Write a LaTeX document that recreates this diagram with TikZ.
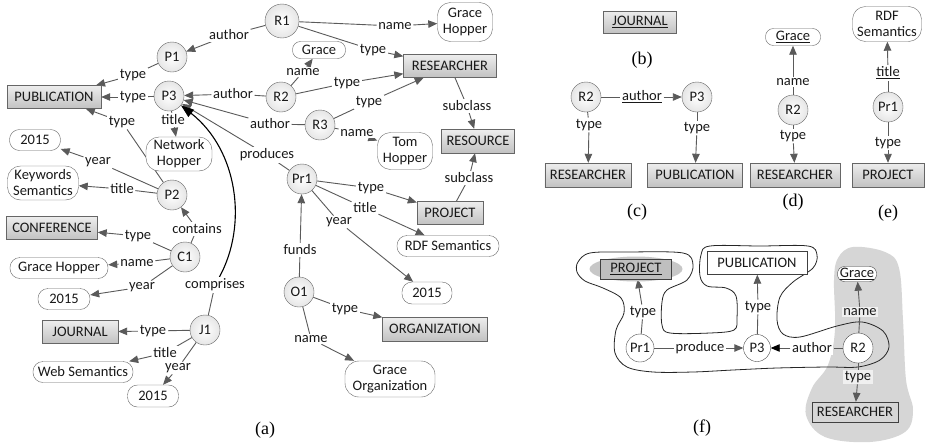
\documentclass[tikz,border=0pt]{standalone}
\usepackage{fontspec}
\setmainfont{Carlito}
\newfontfamily\capfont{Liberation Serif}
\usetikzlibrary{arrows.meta,shapes.geometric}
\definecolor{lineC}{RGB}{90,90,90}
\definecolor{txtC}{RGB}{25,25,25}
\definecolor{blobC}{RGB}{214,214,214}
\pgfdeclarelayer{back}
\pgfdeclarelayer{edges}
\pgfsetlayers{back,edges,main}
\newcommand\myedge[3]{\draw[ln] (#1) -- (#2); \draw[arr] (#2) -- (#3);}
\tikzset{
  ent/.style={circle, draw=black!60, inner color=white, outer color=black!10, minimum size=30pt, inner sep=0pt, text=txtC},
  cls/.style={rectangle, draw=black!60, top color=black!7, bottom color=black!24, minimum height=23pt, inner xsep=5pt, text=txtC},
  lit/.style={rectangle, rounded corners=10pt, draw=black!60, fill=white, minimum height=21pt, align=center, inner xsep=3pt, inner ysep=1pt, text=txtC},
  lbl/.style={inner sep=1.5pt, fill=white, text=txtC},
  ln/.style={draw=lineC, line width=0.9pt},
  arr/.style={ln, -{Triangle[length=9pt,width=7.5pt]}},
  bigarr/.style={draw=black, line width=1.1pt, -{Triangle[length=13pt,width=9pt]}},
  blkarr/.style={ln, -{Triangle[length=9pt,width=7.5pt,color=black]}},
  fent/.style={circle, draw=black!70, fill=white, minimum size=28pt, inner sep=0pt, text=txtC},
  fbox/.style={rectangle, draw=black!75, fill=white, minimum height=22pt, inner xsep=5pt, text=txtC},
  capt/.style={font=\capfont\fontsize{18}{20}\selectfont, text=black}
}
\begin{document}
\begin{tikzpicture}[x=1pt,y=-1pt,font=\fontsize{14.5}{16}\selectfont]
\useasboundingbox (0,0) rectangle (932,442);
\begin{pgfonlayer}{back}
\fill[white] (0,0) rectangle (932,442);
\end{pgfonlayer}

% ---------------- (a) ----------------
\node[ent, minimum size=34pt] (R1) at (282,21) {R1};
\node[ent] (P1) at (172,57) {P1};
\node[ent] (P3) at (169,96) {P3};
\node[ent] (R2) at (281,97) {R2};
\node[ent] (R3) at (320,125) {R3};
\node[ent] (Pr1) at (302,179) {Pr1};
\node[ent] (O1) at (299,292) {O1};
\node[ent] (P2) at (172,195) {P2};
\node[ent] (C1) at (185,257) {C1};
\node[ent] (J1) at (205,330) {J1};

\node[cls, minimum width=94pt] (PUB) at (54,97) {PUBLICATION};
\node[cls, minimum width=93pt] (RES) at (450,66) {RESEARCHER};
\node[cls, minimum width=73pt, minimum height=24pt] (RESO) at (478,141) {RESOURCE};
\node[cls, minimum width=66pt] (PROJ) at (450,213) {PROJECT};
\node[cls, minimum width=105pt, minimum height=24pt] (ORG) at (435,329) {ORGANIZATION};
\node[cls, minimum width=91pt] (CONF) at (52,228) {CONFERENCE};
\node[cls, minimum width=76pt] (JOUR) at (80,332) {JOURNAL};

\node[lit, minimum width=55pt, minimum height=39pt, rounded corners=13pt] (GH1) at (465,22) {Grace\\Hopper};
\node[lit, minimum width=53pt, minimum height=17pt, rounded corners=8pt] (GR) at (319,50) {Grace};
\node[lit, minimum width=55pt, minimum height=37pt, rounded corners=13pt] (TH) at (405,151) {Tom\\Hopper};
\node[lit, minimum width=66pt, minimum height=34pt, rounded corners=13pt] (NH) at (179,154) {Network\\Hopper};
\node[lit, minimum width=102pt] (RDF) at (448,246) {RDF Semantics};
\node[lit, minimum width=50pt, minimum height=22pt] (Y1) at (427,293) {2015};
\node[lit, minimum width=90pt, minimum height=36pt, rounded corners=14pt] (GO) at (390,379) {Grace\\Organization};
\node[lit, minimum width=51pt] (Y2) at (35,140) {2015};
\node[lit, minimum width=71pt, minimum height=34pt, rounded corners=13pt] (KS) at (43,183) {Keywords\\Semantics};
\node[lit, minimum width=98pt] (GH2) at (59,268) {Grace Hopper};
\node[lit, minimum width=52pt] (Y3) at (64,299) {2015};
\node[lit, minimum width=100pt] (WS) at (83,372) {Web Semantics};
\node[lit, minimum width=51pt, minimum height=22pt] (Y4) at (153,396) {2015};

\node[lbl] (a1) at (229,35) {author};
\node[lbl] (a2) at (395,26) {name};
\node[lbl] (a3) at (373,50) {type};
\node[lbl] (a4) at (133,75) {type};
\node[lbl] (a5) at (133,97) {type};
\node[lbl] (a6) at (122,122) {type};
\node[lbl] (a7) at (173,120) {title};
\node[lbl] (a8) at (233,94) {author};
\node[lbl] (a9) at (270,124) {author};
\node[lbl] (a10) at (267,155) {produces};
\node[lbl] (a11) at (215,285) {comprises};
\node[lbl] (a12) at (303,72) {name};
\node[lbl] (a13) at (347,83) {type};
\node[lbl] (a14) at (369,102) {type};
\node[lbl] (a15) at (357,133) {name};
\node[lbl] (a16) at (467,106) {subclass};
\node[lbl] (a17) at (469,178) {subclass};
\node[lbl] (a18) at (371,188) {type};
\node[lbl] (a19) at (365,208) {title};
\node[lbl] (a20) at (339,222) {year};
\node[lbl] (a21) at (300,250) {funds};
\node[lbl] (a22) at (345,309) {type};
\node[lbl] (a23) at (311,339) {name};
\node[lbl] (a24) at (98,162) {year};
\node[lbl] (a25) at (122,189) {title};
\node[lbl] (a26) at (197,229) {contains};
\node[lbl] (a27) at (138,236) {type};
\node[lbl] (a28) at (137,263) {name};
\node[lbl] (a29) at (142,287) {year};
\node[lbl] (a30) at (153,331) {type};
\node[lbl] (a31) at (165,353) {title};
\node[lbl] (a32) at (178,368) {year};

\begin{pgfonlayer}{edges}
\myedge{R1}{a1}{P1}
\myedge{R1}{a2}{GH1}
\myedge{R1}{a3}{RES}
\myedge{P1}{a4}{PUB}
\myedge{P3}{a5}{PUB}
\myedge{P2}{a6}{PUB}
\myedge{P3}{a7}{NH}
\myedge{R2}{a8}{P3}
\myedge{R3}{a9}{P3}
\myedge{Pr1}{a10}{P3}
\draw[ln] (J1) -- (a11);
\draw[bigarr] (a11) .. controls (248,225) and (238,150) .. (P3);
\myedge{R2}{a12}{GR}
\myedge{R2}{a13}{RES}
\myedge{R3}{a14}{RES}
\myedge{R3}{a15}{TH}
\myedge{RES}{a16}{RESO}
\myedge{PROJ}{a17}{RESO}
\myedge{Pr1}{a18}{PROJ}
\myedge{Pr1}{a19}{RDF}
\myedge{Pr1}{a20}{Y1}
\myedge{O1}{a21}{Pr1}
\myedge{O1}{a22}{ORG}
\myedge{O1}{a23}{GO}
\myedge{P2}{a24}{Y2}
\myedge{P2}{a25}{KS}
\myedge{C1}{a26}{P2}
\myedge{C1}{a27}{CONF}
\myedge{C1}{a28}{GH2}
\myedge{C1}{a29}{Y3}
\myedge{J1}{a30}{JOUR}
\myedge{J1}{a31}{WS}
\myedge{J1}{a32}{Y4}
\end{pgfonlayer}
\node[capt] (capa) at (265,430) {(a)};

% ---------------- (b) ----------------
\node[cls, minimum width=73pt, minimum height=22pt] (JOURb) at (640,22) {\underline{JOURNAL}};
\node[capt] (capb) at (642,60) {(b)};

% ---------------- (c) ----------------
\node[ent] (R2c) at (586,97) {R2};
\node[ent] (P3c) at (697,97) {P3};
\node[cls, minimum width=82pt, minimum height=24pt] (RESc) at (588,175) {RESEARCHER};
\node[cls, minimum width=95pt, minimum height=24pt] (PUBc) at (695,175) {PUBLICATION};
\node[lbl] (c1) at (642,97) {\underline{author}};
\node[lbl] (c2) at (589,125) {type};
\node[lbl] (c3) at (697,128) {type};
\begin{pgfonlayer}{edges}
\myedge{R2c}{c1}{P3c}
\myedge{R2c}{c2}{RESc}
\myedge{P3c}{c3}{PUBc}
\end{pgfonlayer}
\node[capt] (capc) at (637,212) {(c)};

% ---------------- (d) ----------------
\node[lit, minimum width=55pt, minimum height=17pt, rounded corners=8pt] (GRd) at (793,37) {\underline{Grace}};
\node[ent] (R2d) at (793,110) {R2};
\node[cls, minimum width=90pt, minimum height=24pt] (RESd) at (795,175) {RESEARCHER};
\node[lbl] (d1) at (793,82) {name};
\node[lbl] (d2) at (793,136) {type};
\begin{pgfonlayer}{edges}
\myedge{R2d}{d1}{GRd}
\myedge{R2d}{d2}{RESd}
\end{pgfonlayer}
\node[capt] (capd) at (793,202) {(d)};

% ---------------- (e) ----------------
\node[lit, minimum width=69pt, minimum height=35pt, rounded corners=13pt] (RDFe) at (887,24) {RDF\\Semantics};
\node[ent] (Pr1e) at (888,107) {Pr1};
\node[cls, minimum width=72pt, minimum height=24pt] (PROJe) at (888,175) {PROJECT};
\node[lbl] (e1) at (888,73) {\underline{title}};
\node[lbl] (e2) at (888,143) {type};
\begin{pgfonlayer}{edges}
\myedge{Pr1e}{e1}{RDFe}
\myedge{Pr1e}{e2}{PROJe}
\end{pgfonlayer}
\node[capt] (cape) at (888,213) {(e)};

% ---------------- (f) ----------------
\begin{pgfonlayer}{back}
\fill[blobC] plot[smooth cycle, tension=0.6] coordinates {
 (853,247) (885,252) (899,268) (903,320) (906,380) (913,410) (905,432)
 (870,442) (825,437) (806,415) (812,388) (828,365) (835,330) (834,280) (838,258)};
\end{pgfonlayer}
\begin{pgfonlayer}{edges}
\draw[black!85, line width=0.8pt] plot[smooth cycle, tension=0.55] coordinates {
 (578,262) (590,253) (627,252) (683,253) (693,265) (687,280) (667,290)
 (662,302) (662,325) (670,333) (710,333) (734,330) (737,318) (736,296)
 (726,288) (707,286) (700,276) (701,255) (710,246) (760,246) (808,246)
 (817,255) (813,268) (793,282) (780,297) (777,320) (783,334) (800,337)
 (837,326) (862,322) (883,331) (889,347) (880,360) (858,367) (827,367)
 (777,368) (733,370) (693,372) (653,372) (627,367) (615,353) (616,330)
 (624,313) (621,298) (603,288) (585,281) (577,272)};
\end{pgfonlayer}
\node[ellipse, fill=black!22, minimum width=93pt, minimum height=25pt, inner sep=0pt] (ellf) at (636,269) {};
\node[fbox, fill=black!25, minimum width=71pt, minimum height=20pt] (PROJf) at (636,269) {\underline{PROJECT}};
\node[fbox, minimum width=100pt, minimum height=23pt] (PUBf) at (757,263) {PUBLICATION};
\node[lit, draw=black!75, minimum width=39pt, minimum height=15pt, rounded corners=7pt, inner xsep=1pt, inner ysep=0pt] (GRf) at (857,274) {\underline{Grace}};
\node[fent] (Pr1f) at (640,348) {Pr1};
\node[fent, minimum size=27pt] (P3f) at (757,348) {P3};
\node[fent, minimum size=30pt] (R2f) at (858,348) {R2};
\node[fbox, fill=none, minimum width=85pt, minimum height=20pt] (RESf) at (855,412) {RESEARCHER};
\node[lbl] (f1) at (643,312) {type};
\node[lbl] (f2) at (758,307) {type};
\node[lbl] (f3) at (700,348) {produce};
\node[lbl] (f4) at (812,348) {author};
\node[lbl, fill=black!6] (f5) at (860,312) {name};
\node[lbl, fill=black!6] (f6) at (858,377) {type};
\begin{pgfonlayer}{edges}
\myedge{Pr1f}{f1}{PROJf}
\myedge{P3f}{f2}{PUBf}
\myedge{Pr1f}{f3}{P3f}
\draw[ln] (R2f) -- (f4); \draw[blkarr] (f4) -- (P3f);
\myedge{R2f}{f5}{GRf}
\myedge{R2f}{f6}{RESf}
\end{pgfonlayer}
\node[capt] (capf) at (702,428) {(f)};
\end{tikzpicture}
\end{document}
